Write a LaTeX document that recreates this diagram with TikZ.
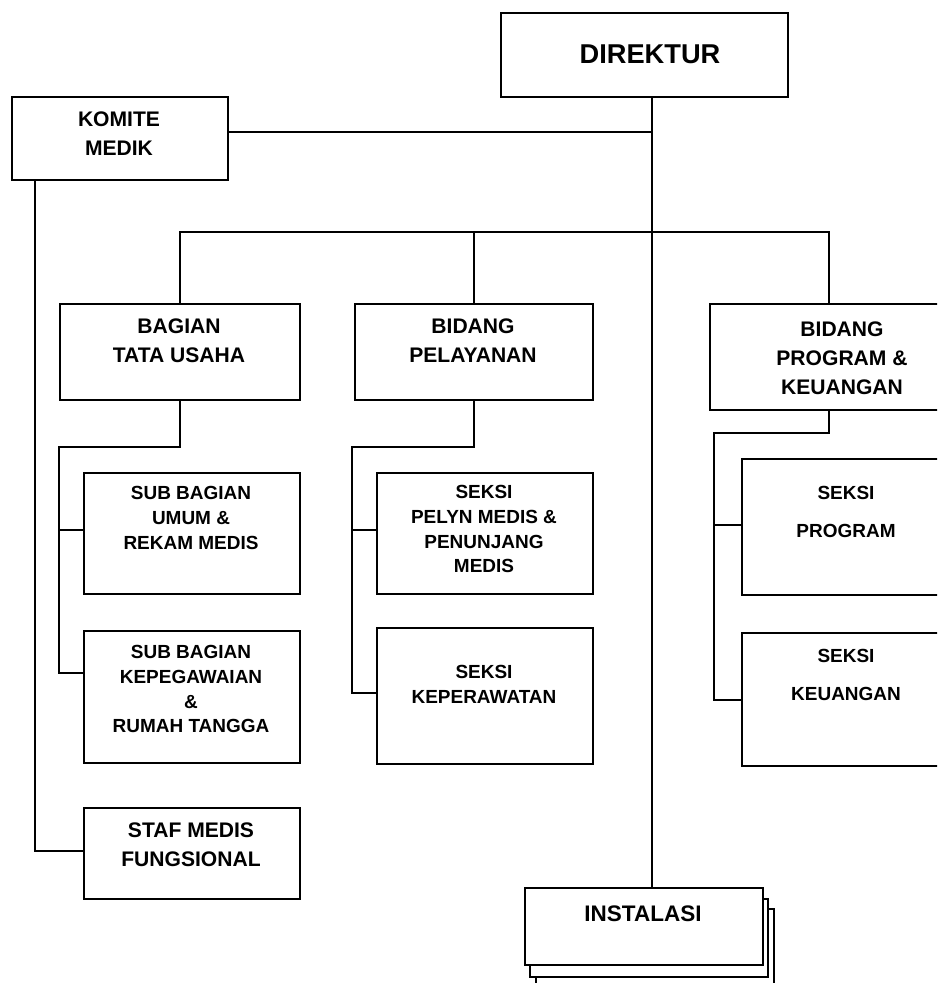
\documentclass[tikz,border=0pt]{standalone}
\usepackage{fontspec}
\setmainfont{Liberation Sans}
\begin{document}
\begin{tikzpicture}[x=0.02cm, y=-0.02cm, line width=1.1pt,
	box/.style={draw, rectangle, inner sep=0pt, anchor=north west, fill=white},
	head/.style={font=\bfseries\fontsize{15.5}{19}\selectfont},
	big/.style={font=\bfseries\fontsize{12}{16.5}\selectfont, align=center},
	small/.style={font=\bfseries\fontsize{10.8}{14.2}\selectfont, align=center}]
		\useasboundingbox (0,0) rectangle (937,983);
		\clip (0,0) rectangle (937,983);
		% boxes
		\node[box, minimum width=5.74cm, minimum height=1.68cm] (direktur) at (500,12) {};
		\node[box, minimum width=4.32cm, minimum height=1.66cm] (komite) at (11,96) {};
		\node[box, minimum width=4.8cm, minimum height=1.92cm] (bagian) at (59,303) {};
		\node[box, minimum width=4.76cm, minimum height=1.92cm] (pelayanan) at (354,303) {};
		\node[box, minimum width=5.3cm, minimum height=2.12cm] (program) at (709,303) {};
		\node[box, minimum width=4.32cm, minimum height=2.42cm] (umum) at (83,472) {};
		\node[box, minimum width=4.32cm, minimum height=2.64cm] (kepeg) at (83,630) {};
		\node[box, minimum width=4.32cm, minimum height=1.82cm] (staf) at (83,807) {};
		\node[box, minimum width=4.32cm, minimum height=2.42cm] (pelyn) at (376,472) {};
		\node[box, minimum width=4.32cm, minimum height=2.72cm] (perawat) at (376,627) {};
		\node[box, minimum width=4.18cm, minimum height=2.72cm] (sprogram) at (741,458) {};
		\node[box, minimum width=4.18cm, minimum height=2.66cm] (skeuangan) at (741,632) {};
		\node[box, minimum width=4.76cm, minimum height=1.56cm] (instalasi-3) at (535,908) {};
		\node[box, minimum width=4.76cm, minimum height=1.56cm] (instalasi-2) at (529,898) {};
		\node[box, minimum width=4.76cm, minimum height=1.54cm] (instalasi) at (524,887) {};
		% texts
		\node[head] (direktur-t) at (650,54) {DIREKTUR};
		\node[big] (komite-t) at (119,134) {KOMITE\\MEDIK};
		\node[big] (bagian-t) at (179,341) {BAGIAN\\TATA USAHA};
		\node[big] (pelayanan-t) at (473,341) {BIDANG\\PELAYANAN};
		\node[big] (program-t) at (842,358) {BIDANG\\PROGRAM \&\\KEUANGAN};
		\node[small] (umum-t) at (191,518) {SUB BAGIAN\\UMUM \&\\REKAM MEDIS};
		\node[small] (kepeg-t) at (191,689) {SUB BAGIAN\\KEPEGAWAIAN\\\&\\RUMAH TANGGA};
		\node[big] (staf-t) at (191,845) {STAF MEDIS\\FUNGSIONAL};
		\node[small] (pelyn-t) at (484,529) {SEKSI\\PELYN MEDIS \&\\PENUNJANG\\MEDIS};
		\node[small] (perawat-t) at (484,684) {SEKSI\\KEPERAWATAN};
		\node[small] (sprogram-t) at (846,512) {SEKSI\\[7pt]PROGRAM};
		\node[small] (skeuangan-t) at (846,675) {SEKSI\\[7pt]KEUANGAN};
		\node[font=\bfseries\fontsize{12.8}{15}\selectfont] (instalasi-t) at (643,914) {INSTALASI};
		% lines
		\coordinate (spine) at (652,132);
		\coordinate (pstem) at (829,232);
		\draw (direktur.south -| spine) -- (instalasi.north -| spine);
		\draw (komite.east |- spine) -- (spine);
		\draw (bagian.north) |- (pstem) -- (program.north -| pstem);
		\draw (pelayanan.north) -- (pelayanan.north |- pstem);
		\draw (komite.south west) ++(24,0) |- (staf.west |- 0,851);
		\draw (bagian.south) |- (59,447) |- (kepeg.west |- 0,673);
		\draw (59,530) -- (umum.west |- 0,530);
		\draw (pelayanan.south) |- (352,447) |- (perawat.west |- 0,693);
		\draw (352,530) -- (pelyn.west |- 0,530);
		\draw (program.south -| pstem) |- (714,433) |- (skeuangan.west |- 0,700);
		\draw (714,525) -- (sprogram.west |- 0,525);
\end{tikzpicture}
\end{document}
